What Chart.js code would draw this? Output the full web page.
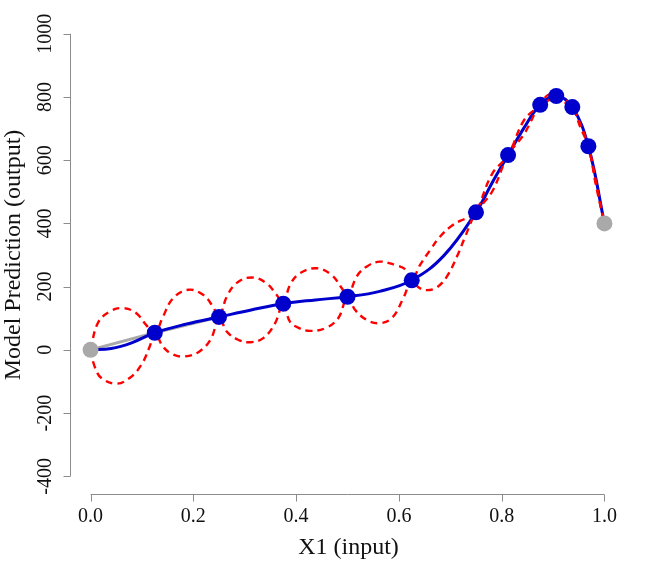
<!DOCTYPE html>
<html>
<head>
<meta charset="utf-8">
<script src="https://cdn.jsdelivr.net/npm/chart.js@4.4.1/dist/chart.umd.min.js"></script>
<style>
  html, body { margin: 0; padding: 0; background: #fff; }
  #chart { display: block; }
</style>
</head>
<body>
<canvas id="chart" width="658" height="564"></canvas>
<script>
// axis ticks
const xTicks = [0, 0.2, 0.4, 0.6, 0.8, 1.0];
const yTicks = [-400, -200, 0, 200, 400, 600, 800, 1000];

// observed design points (blue) and the two end points (gray)
const obsX = [0.125, 0.25, 0.375, 0.5, 0.625, 0.75, 0.8125, 0.875, 0.90625, 0.9375, 0.96875];
const obsY = [54, 104, 146, 168, 220, 435, 616, 775, 803, 768, 644];
const endX = [0, 1];
const endY = [0, 400];

// gray segment from the first end point
const grayX = [0, 0.125, 0.25];
const grayY = [0, 54, 104];

// predicted mean (blue line)
const meanX = [0, 0.04, 0.08, 0.125, 0.1875, 0.25, 0.3125, 0.375, 0.4375, 0.5, 0.5625, 0.625,
  0.6875, 0.75, 0.78125, 0.8125, 0.84375, 0.875, 0.90625, 0.9375, 0.96875, 1];
const meanY = [0, 4, 22, 54, 82, 104, 126, 146, 158, 168, 185, 220,
  298, 435, 528, 616, 703, 775, 803, 768, 644, 400];

// upper bound (red dashed)
const upperX = [0, 0.014, 0.037, 0.063, 0.089, 0.108, 0.125,
  0.141, 0.16, 0.19, 0.219, 0.238, 0.25,
  0.265, 0.284, 0.313, 0.342, 0.362, 0.375,
  0.388, 0.407, 0.44, 0.469, 0.489, 0.5,
  0.518, 0.537, 0.563, 0.593, 0.612, 0.625,
  0.641, 0.661, 0.68, 0.7, 0.719, 0.739, 0.75,
  0.78125, 0.8125, 0.84375, 0.875, 0.89, 0.90625, 0.922, 0.9375, 0.953, 0.96875, 0.984, 1];
const upperY = [0, 84, 121, 132, 116, 79, 54,
  105, 162, 190, 174, 137, 104,
  168, 211, 229, 211, 174, 146,
  205, 242, 258, 237, 195, 168,
  232, 263, 279, 268, 255, 220,
  268, 316, 358, 389, 408, 421, 435,
  556, 616, 727, 775, 806, 803, 796, 768, 714, 644, 528, 400];

// lower bound (red dashed)
const lowerX = [0, 0.008, 0.021, 0.05, 0.076, 0.099, 0.115, 0.125,
  0.141, 0.16, 0.183, 0.212, 0.235, 0.25,
  0.265, 0.287, 0.31, 0.336, 0.359, 0.375,
  0.388, 0.407, 0.427, 0.456, 0.482, 0.5,
  0.515, 0.537, 0.56, 0.586, 0.609, 0.625,
  0.638, 0.654, 0.674, 0.693, 0.713, 0.729, 0.75,
  0.78125, 0.8125, 0.84375, 0.875, 0.89, 0.90625, 0.922, 0.9375, 0.953, 0.96875, 0.984, 1];
const lowerY = [0, -53, -89, -107, -89, -47, 10, 54,
  10, -14, -21, -5, 37, 104,
  58, 32, 24, 37, 84, 146,
  89, 68, 60, 68, 100, 168,
  126, 95, 84, 100, 165, 220,
  198, 189, 198, 231, 295, 358, 435,
  500, 616, 683, 775, 788, 803, 784, 768, 704, 644, 516, 400];

const BLUE = "#0000cd";
const RED = "#ff0000";
const GRAY = "#a9a9a9";
const AXIS = "#8c8c8c";
const TICK_FONT = "20px 'Liberation Serif', 'DejaVu Serif', serif";
const TITLE_FONT = "24px 'Liberation Serif', 'DejaVu Serif', serif";

function toPoints(xs, ys) {
  return xs.map((x, i) => ({ x, y: ys[i] }));
}

// R-style detached axes drawn from the chart's own scales
const rAxes = {
  id: "rAxes",
  afterDraw(chart) {
    const { ctx, chartArea } = chart;
    const xs = chart.scales.x;
    const ys = chart.scales.y;
    const bottom = Math.round(chartArea.bottom) + 0.5;
    const left = Math.round(chartArea.left) + 0.5;
    ctx.save();
    ctx.strokeStyle = AXIS;
    ctx.lineWidth = 1;
    ctx.beginPath();
    ctx.moveTo(xs.getPixelForValue(xTicks[0]), bottom);
    ctx.lineTo(xs.getPixelForValue(xTicks[xTicks.length - 1]), bottom);
    for (const t of xTicks) {
      const px = Math.round(xs.getPixelForValue(t)) + 0.5;
      ctx.moveTo(px, bottom);
      ctx.lineTo(px, bottom + 7);
    }
    ctx.moveTo(left, ys.getPixelForValue(yTicks[0]));
    ctx.lineTo(left, ys.getPixelForValue(yTicks[yTicks.length - 1]));
    for (const t of yTicks) {
      const py = Math.round(ys.getPixelForValue(t)) + 0.5;
      ctx.moveTo(left, py);
      ctx.lineTo(left - 7, py);
    }
    ctx.stroke();

    ctx.fillStyle = "#111";
    ctx.textAlign = "center";
    ctx.textBaseline = "middle";
    ctx.font = TICK_FONT;
    for (const t of xTicks) {
      ctx.fillText(t.toFixed(1), xs.getPixelForValue(t), bottom + 22);
    }
    for (const t of yTicks) {
      ctx.save();
      ctx.translate(left - 25, ys.getPixelForValue(t));
      ctx.rotate(-Math.PI / 2);
      ctx.fillText(String(t), 0, 0);
      ctx.restore();
    }

    ctx.font = TITLE_FONT;
    const xMid = (xs.getPixelForValue(0) + xs.getPixelForValue(1)) / 2;
    ctx.fillText("X1 (input)", xMid + 1, bottom + 53);
    ctx.save();
    ctx.translate(14, (chartArea.top + chartArea.bottom) / 2);
    ctx.rotate(-Math.PI / 2);
    ctx.fillText("Model Prediction (output)", 0, 0);
    ctx.restore();
    ctx.restore();
  },
};

new Chart(document.getElementById("chart"), {
  type: "line",
  data: {
    datasets: [
      {
        label: "ends",
        data: toPoints(endX, endY),
        showLine: false,
        pointRadius: 8,
        pointBackgroundColor: GRAY,
        pointBorderColor: GRAY,
        pointBorderWidth: 0,
        order: 0,
      },
      {
        label: "observed",
        data: toPoints(obsX, obsY),
        showLine: false,
        pointRadius: 8,
        pointBackgroundColor: BLUE,
        pointBorderColor: BLUE,
        pointBorderWidth: 0,
        order: 1,
      },
      {
        label: "upper",
        data: toPoints(upperX, upperY),
        borderColor: RED,
        borderWidth: 2.4,
        borderDash: [7, 5],
        pointRadius: 0,
        tension: 0.4,
        order: 2,
      },
      {
        label: "lower",
        data: toPoints(lowerX, lowerY),
        borderColor: RED,
        borderWidth: 2.4,
        borderDash: [7, 5],
        pointRadius: 0,
        tension: 0.4,
        order: 3,
      },
      {
        label: "mean",
        data: toPoints(meanX, meanY),
        borderColor: BLUE,
        borderWidth: 3,
        pointRadius: 0,
        tension: 0.4,
        order: 4,
      },
      {
        label: "truth",
        data: toPoints(grayX, grayY),
        borderColor: GRAY,
        borderWidth: 3,
        pointRadius: 0,
        tension: 0,
        order: 5,
      },
    ],
  },
  options: {
    responsive: false,
    animation: false,
    events: [],
    layout: { padding: { left: 70, right: 33, top: 16, bottom: 70 } },
    plugins: { legend: { display: false }, tooltip: { enabled: false } },
    scales: {
      x: { type: "linear", display: false, min: -0.04, max: 1.04 },
      y: { type: "linear", display: false, min: -456, max: 1056 },
    },
  },
  plugins: [rAxes],
});
</script>
</body>
</html>
